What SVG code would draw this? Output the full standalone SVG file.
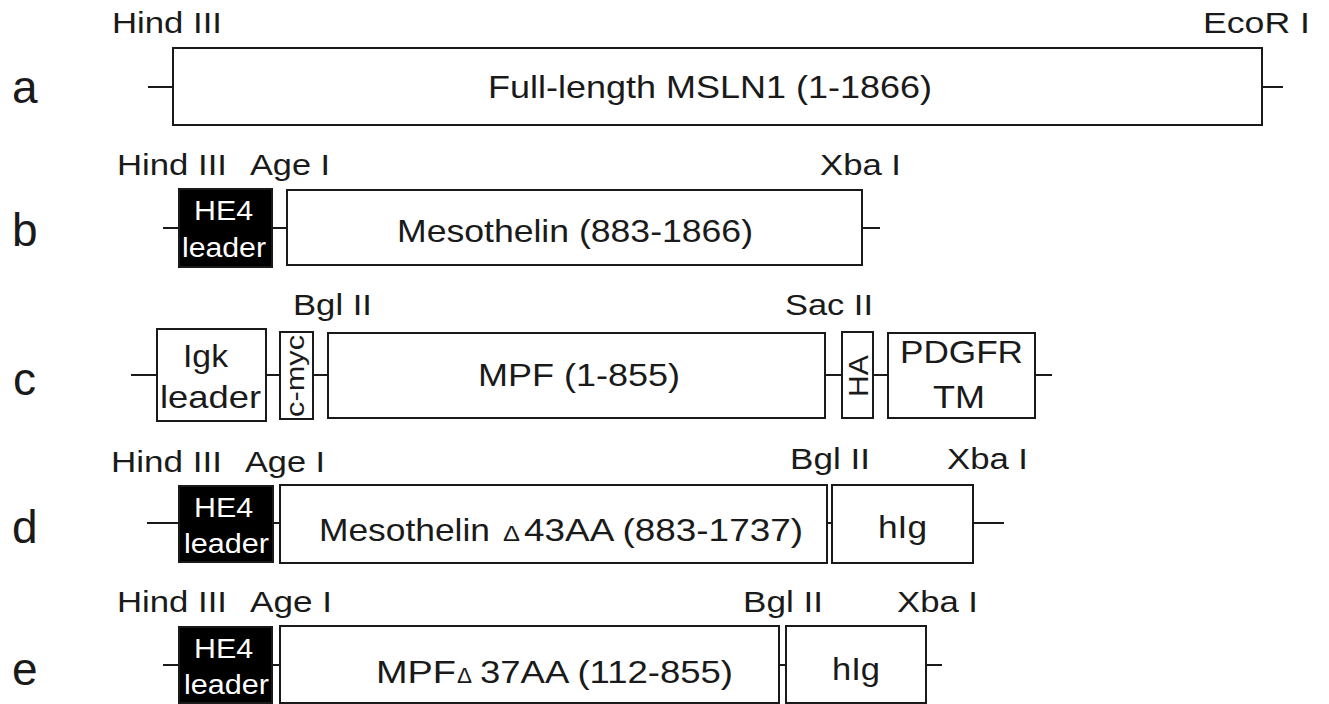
<svg xmlns="http://www.w3.org/2000/svg" width="1329" height="704" viewBox="0 0 1329 704">
<style>
text{font-family:"Liberation Sans",Arial,sans-serif;fill:#1a1a1a}
.row{font-size:46px}
.site{font-size:29px}
.main{font-size:32px}
.lead{font-size:27px;fill:#ffffff}
.box{fill:#ffffff;stroke:#1a1a1a;stroke-width:2}
.blk{fill:#000000;stroke:#1a1a1a;stroke-width:2}
.ln{stroke:#1a1a1a;stroke-width:2;fill:none}
</style>
<rect width="1329" height="704" fill="#ffffff"/>

<g id="row-labels">
<text class="row" x="12" y="103">a</text>
<text class="row" x="12" y="246">b</text>
<text class="row" x="13" y="395">c</text>
<text class="row" x="12" y="543">d</text>
<text class="row" x="12" y="685">e</text>
</g>

<g id="connectors">
<line class="ln" x1="148" y1="87" x2="173" y2="87"/>
<line class="ln" x1="1262" y1="87" x2="1283" y2="87"/>
<line class="ln" x1="163" y1="228" x2="179" y2="228"/>
<line class="ln" x1="272" y1="228" x2="287" y2="228"/>
<line class="ln" x1="862" y1="228" x2="880" y2="228"/>
<line class="ln" x1="131" y1="375" x2="157" y2="375"/>
<line class="ln" x1="266" y1="375" x2="280" y2="375"/>
<line class="ln" x1="313" y1="375" x2="328" y2="375"/>
<line class="ln" x1="825" y1="375" x2="842" y2="375"/>
<line class="ln" x1="873" y1="375" x2="888" y2="375"/>
<line class="ln" x1="1035" y1="375" x2="1052" y2="375"/>
<line class="ln" x1="147" y1="523" x2="179" y2="523"/>
<line class="ln" x1="273" y1="523" x2="280" y2="523"/>
<line class="ln" x1="827" y1="523" x2="832" y2="523"/>
<line class="ln" x1="973" y1="523" x2="1004" y2="523"/>
<line class="ln" x1="163" y1="665" x2="179" y2="665"/>
<line class="ln" x1="272" y1="665" x2="280" y2="665"/>
<line class="ln" x1="779" y1="665" x2="786" y2="665"/>
<line class="ln" x1="926" y1="665" x2="942" y2="665"/>
</g>

<g id="sites">
<text class="site" x="112" y="33" textLength="110" lengthAdjust="spacingAndGlyphs">Hind III</text>
<text class="site" x="1203" y="33" textLength="107" lengthAdjust="spacingAndGlyphs">EcoR I</text>
<text class="site" x="117" y="175" textLength="110" lengthAdjust="spacingAndGlyphs">Hind III</text>
<text class="site" x="250" y="175" textLength="80" lengthAdjust="spacingAndGlyphs">Age I</text>
<text class="site" x="820" y="175" textLength="81" lengthAdjust="spacingAndGlyphs">Xba I</text>
<text class="site" x="293" y="315" textLength="79" lengthAdjust="spacingAndGlyphs">Bgl II</text>
<text class="site" x="785" y="315" textLength="88" lengthAdjust="spacingAndGlyphs">Sac II</text>
<text class="site" x="111" y="472" textLength="111" lengthAdjust="spacingAndGlyphs">Hind III</text>
<text class="site" x="245" y="472" textLength="80" lengthAdjust="spacingAndGlyphs">Age I</text>
<text class="site" x="790" y="469" textLength="80" lengthAdjust="spacingAndGlyphs">Bgl II</text>
<text class="site" x="947" y="469" textLength="81" lengthAdjust="spacingAndGlyphs">Xba I</text>
<text class="site" x="117" y="612" textLength="110" lengthAdjust="spacingAndGlyphs">Hind III</text>
<text class="site" x="250" y="612" textLength="82" lengthAdjust="spacingAndGlyphs">Age I</text>
<text class="site" x="743" y="612" textLength="80" lengthAdjust="spacingAndGlyphs">Bgl II</text>
<text class="site" x="897" y="612" textLength="81" lengthAdjust="spacingAndGlyphs">Xba I</text>
</g>

<g id="a-full-length">
<rect class="box" x="173" y="48" width="1089" height="77"/>
<text class="main" x="488" y="98" textLength="444" lengthAdjust="spacingAndGlyphs">Full-length MSLN1 (1-1866)</text>
</g>

<g id="b-he4">
<rect class="blk" x="179" y="189" width="93" height="78"/>
<text class="lead" x="194" y="220" textLength="59" lengthAdjust="spacingAndGlyphs">HE4</text>
<text class="lead" x="182" y="257" textLength="84" lengthAdjust="spacingAndGlyphs">leader</text>
</g>
<g id="b-mesothelin">
<rect class="box" x="287" y="190" width="575" height="75"/>
<text class="main" x="397" y="242" textLength="356" lengthAdjust="spacingAndGlyphs">Mesothelin (883-1866)</text>
</g>

<g id="c-igk">
<rect class="box" x="157" y="329" width="109" height="92"/>
<text class="main" x="183" y="367" font-size="30" textLength="45" lengthAdjust="spacingAndGlyphs">Igk</text>
<text class="main" x="160" y="408" font-size="30" textLength="101" lengthAdjust="spacingAndGlyphs">leader</text>
</g>
<g id="c-cmyc">
<rect class="box" x="280" y="332" width="33" height="87"/>
<text x="0" y="0" font-size="26" text-anchor="middle" transform="translate(304,376) rotate(-90)" textLength="82" lengthAdjust="spacingAndGlyphs">c-myc</text>
</g>
<g id="c-mpf">
<rect class="box" x="328" y="333" width="497" height="85"/>
<text class="main" x="478" y="386" textLength="202" lengthAdjust="spacingAndGlyphs">MPF (1-855)</text>
</g>
<g id="c-ha">
<rect class="box" x="842" y="332" width="31" height="86"/>
<text x="0" y="0" font-size="28" text-anchor="middle" transform="translate(868,376) rotate(-90)" textLength="42" lengthAdjust="spacingAndGlyphs">HA</text>
</g>
<g id="c-pdgfr">
<rect class="box" x="888" y="333" width="147" height="85"/>
<text class="main" x="900" y="363" font-size="31" textLength="123" lengthAdjust="spacingAndGlyphs">PDGFR</text>
<text class="main" x="933" y="408" font-size="31" textLength="52" lengthAdjust="spacingAndGlyphs">TM</text>
</g>

<g id="d-he4">
<rect class="blk" x="179" y="486" width="94" height="76"/>
<text class="lead" x="194" y="517" textLength="59" lengthAdjust="spacingAndGlyphs">HE4</text>
<text class="lead" x="184" y="553" textLength="85" lengthAdjust="spacingAndGlyphs">leader</text>
</g>
<g id="d-mesothelin-delta">
<rect class="box" x="280" y="485" width="547" height="78"/>
<text class="main" y="541"><tspan x="319" textLength="171" lengthAdjust="spacingAndGlyphs">Mesothelin</tspan><tspan x="503" font-size="22" textLength="17" lengthAdjust="spacingAndGlyphs">Δ</tspan><tspan x="524" textLength="279" lengthAdjust="spacingAndGlyphs">43AA (883-1737)</tspan></text>
</g>
<g id="d-hig">
<rect class="box" x="832" y="485" width="141" height="78"/>
<text class="main" x="878" y="538" textLength="49" lengthAdjust="spacingAndGlyphs">hIg</text>
</g>

<g id="e-he4">
<rect class="blk" x="179" y="627" width="93" height="76"/>
<text class="lead" x="194" y="658" textLength="59" lengthAdjust="spacingAndGlyphs">HE4</text>
<text class="lead" x="184" y="694" textLength="85" lengthAdjust="spacingAndGlyphs">leader</text>
</g>
<g id="e-mpf-delta">
<rect class="box" x="280" y="626" width="499" height="77"/>
<text class="main" y="683"><tspan x="376" textLength="80" lengthAdjust="spacingAndGlyphs">MPF</tspan><tspan x="457" font-size="22" textLength="15" lengthAdjust="spacingAndGlyphs">Δ</tspan><tspan x="480" textLength="253" lengthAdjust="spacingAndGlyphs">37AA (112-855)</tspan></text>
</g>
<g id="e-hig">
<rect class="box" x="786" y="626" width="140" height="77"/>
<text class="main" x="832" y="680" textLength="48" lengthAdjust="spacingAndGlyphs">hIg</text>
</g>
</svg>
